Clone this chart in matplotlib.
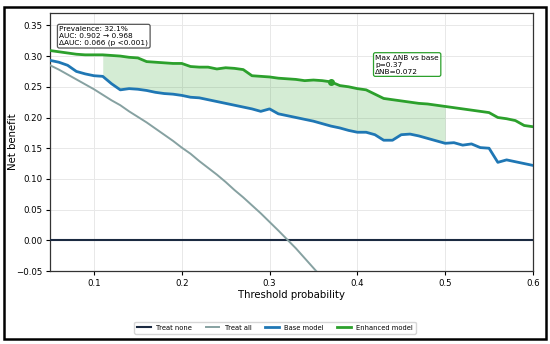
import numpy as np
import matplotlib
matplotlib.use("Agg")
import matplotlib.pyplot as plt
from matplotlib.patches import Rectangle

# Decision curve data (threshold steps of 0.01)
thresholds = np.round(np.arange(0.05, 0.601, 0.01), 2)

base_nb = [0.293, 0.290, 0.285, 0.275, 0.271, 0.268, 0.267, 0.255, 0.245, 0.247,
           0.246, 0.244, 0.241, 0.239, 0.238, 0.236, 0.233, 0.232, 0.229, 0.226,
           0.223, 0.220, 0.217, 0.214, 0.210, 0.214, 0.206, 0.203, 0.200, 0.197,
           0.194, 0.190, 0.186, 0.183, 0.179, 0.176, 0.176, 0.172, 0.163, 0.163,
           0.172, 0.173, 0.170, 0.166, 0.162, 0.158, 0.159, 0.155, 0.157, 0.151,
           0.150, 0.127, 0.131, 0.128, 0.125, 0.122]

enh_nb = [0.309, 0.307, 0.305, 0.303, 0.302, 0.302, 0.302, 0.301, 0.300, 0.298,
          0.297, 0.291, 0.290, 0.289, 0.288, 0.288, 0.283, 0.282, 0.282, 0.279,
          0.281, 0.280, 0.278, 0.268, 0.267, 0.266, 0.264, 0.263, 0.262, 0.260,
          0.261, 0.260, 0.258, 0.252, 0.250, 0.247, 0.245, 0.238, 0.231, 0.229,
          0.227, 0.225, 0.223, 0.222, 0.220, 0.218, 0.216, 0.214, 0.212, 0.210,
          0.208, 0.200, 0.198, 0.195, 0.187, 0.185]

treat_all_pt = np.round(np.arange(0.05, 0.361, 0.01), 2)
treat_all_nb = [0.285, 0.278, 0.270, 0.262, 0.254, 0.246, 0.237, 0.228, 0.220, 0.210,
                0.201, 0.192, 0.182, 0.172, 0.162, 0.151, 0.141, 0.129, 0.118, 0.107,
                0.095, 0.082, 0.070, 0.057, 0.044, 0.030, 0.016, 0.0015, -0.013, -0.029,
                -0.045, -0.061]

fill_lo, fill_hi = 0.11, 0.50
best_pt, best_delta = 0.37, 0.072

info_text = "Prevalence: 32.1%\nAUC: 0.902 \u2192 0.968\n\u0394AUC: 0.066 (p <0.001)"
max_text = "Max \u0394NB vs base\np=0.37\n\u0394NB=0.072"

c_none = "#1b2a41"
c_all = "#86a1a1"
c_base = "#1f77b4"
c_enh = "#2ca02c"

fig = plt.figure(figsize=(5.5, 3.44), dpi=100)
ax = fig.add_axes([0.091, 0.212, 0.878, 0.750])

# frame round the whole figure
fig.patches.append(Rectangle((0.007, 0.015), 0.986, 0.965, transform=fig.transFigure,
                             fill=False, edgecolor="black", linewidth=1.8))

ax.axhline(0, color=c_none, linewidth=1.5, label="Treat none", zorder=3)
ax.plot(treat_all_pt, treat_all_nb, color=c_all, linewidth=1.4, label="Treat all", zorder=3)
ax.plot(thresholds, base_nb, color=c_base, linewidth=2.0, label="Base model", zorder=4)
ax.plot(thresholds, enh_nb, color=c_enh, linewidth=2.0, label="Enhanced model", zorder=4)

mask = (thresholds >= fill_lo - 1e-9) & (thresholds <= fill_hi + 1e-9)
ax.fill_between(thresholds[mask], np.array(base_nb)[mask], np.array(enh_nb)[mask],
                color=c_enh, alpha=0.2, linewidth=0, zorder=2)

i_best = int(np.argmin(np.abs(thresholds - best_pt)))
ax.plot(thresholds[i_best], enh_nb[i_best], "o", color=c_enh, markersize=4, zorder=5)

ax.text(0.0605, 0.3495, info_text, fontsize=5.3, va="top", ha="left", zorder=6,
        bbox=dict(boxstyle="round,pad=0.25", facecolor="white", edgecolor="#555555", linewidth=0.9))
ax.text(0.4205, 0.3025, max_text, fontsize=5.3, va="top", ha="left", zorder=6,
        bbox=dict(boxstyle="round,pad=0.25", facecolor="white", edgecolor=c_enh, linewidth=0.9))

ax.set_xlim(0.05, 0.6)
ax.set_ylim(-0.05, 0.37)
ax.set_xticks([0.1, 0.2, 0.3, 0.4, 0.5, 0.6])
ax.set_yticks([-0.05, 0.0, 0.05, 0.1, 0.15, 0.2, 0.25, 0.3, 0.35])
ax.yaxis.set_major_formatter(plt.FuncFormatter(lambda v, p: f"{v:.2f}".replace("-", "\u2212")))
ax.xaxis.set_major_formatter(plt.FuncFormatter(lambda v, p: f"{v:g}"))
ax.tick_params(labelsize=6.2, length=3, width=0.8, pad=2.5)
ax.grid(True, color="#e8e8e8", linewidth=0.7)
ax.set_axisbelow(True)
for s in ax.spines.values():
    s.set_linewidth(0.9)
    s.set_color("#333333")

ax.set_xlabel("Threshold probability", fontsize=7.3, labelpad=2)
ax.set_ylabel("Net benefit", fontsize=7.3)
ax.yaxis.set_label_coords(-0.066, 0.5)

fig.legend(loc="center", bbox_to_anchor=(0.5, 0.047), ncol=4, fontsize=4.9,
           frameon=True, edgecolor="#cccccc", handlelength=2.0, columnspacing=2.0)

fig.savefig("out.png", dpi=100)
